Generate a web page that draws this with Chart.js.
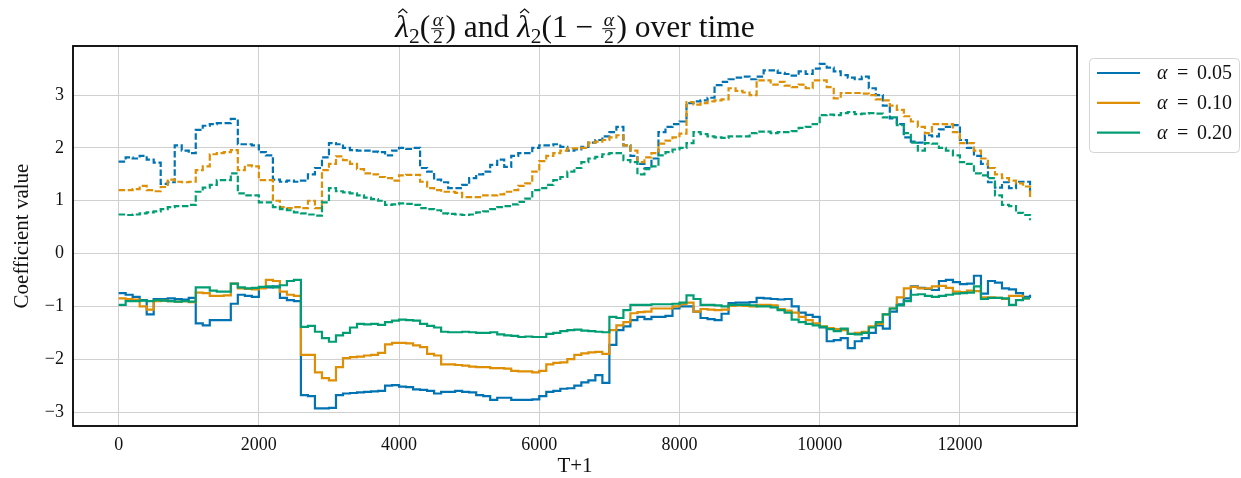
<!DOCTYPE html>
<html><head><meta charset="utf-8">
<script src="https://cdn.jsdelivr.net/npm/chart.js@4.4.0/dist/chart.umd.min.js"></script>
<style>html,body{margin:0;padding:0;background:#fff;}#wrap{width:1241px;height:478px;}</style>
</head><body><div id="wrap"><canvas id="c" width="1241" height="478"></canvas></div>
<script>
// Time axis (T+1), sampled every 100 steps
const timeSteps = Array.from({length:131}, (_, i) => i * 100);
const xTickValues = [0, 2000, 4000, 6000, 8000, 10000, 12000];
const yTickValues = [-3, -2, -1, 0, 1, 2, 3];
const alphaLabels = ['0.05', '0.10', '0.20'];

// Upper quantile coefficient lambda2(1 - alpha/2) (dashed)
const upper005 = [
 1.74,1.82,1.80,1.85,1.78,1.72,1.32,1.35,2.05,1.95,
 1.90,2.34,2.42,2.45,2.47,2.47,2.55,2.07,2.07,2.05,
 1.92,1.86,1.40,1.36,1.38,1.36,1.38,1.50,1.62,1.82,
 2.09,2.07,2.00,1.96,1.95,1.95,1.93,1.92,1.86,1.95,
 2.00,1.98,2.00,1.62,1.55,1.40,1.35,1.24,1.24,1.30,
 1.43,1.50,1.55,1.68,1.78,1.64,1.85,1.90,1.90,2.00,
 2.05,2.05,2.07,2.02,1.95,1.97,2.02,2.10,2.15,2.22,
 2.30,2.40,2.05,1.85,1.70,1.62,1.80,2.30,2.40,2.45,
 2.50,2.85,2.88,2.90,2.95,3.19,3.25,3.30,3.33,3.35,
 3.30,3.35,3.47,3.47,3.42,3.40,3.37,3.45,3.40,3.50,
 3.59,3.52,3.45,3.38,3.33,3.30,3.35,3.13,3.00,2.80,
 2.56,2.45,2.20,2.12,2.10,2.24,2.22,2.35,2.40,2.43,
 2.15,2.00,1.85,1.70,1.35,1.25,1.35,1.24,1.36,1.36,
 1.16];
const upper010 = [
 1.20,1.20,1.22,1.28,1.20,1.18,1.26,1.40,1.36,1.35,
 1.36,1.58,1.65,1.88,1.90,1.92,1.96,1.58,1.67,1.65,
 1.39,1.39,1.00,0.88,0.86,0.88,0.86,1.00,0.86,1.58,
 1.70,1.84,1.77,1.70,1.60,1.52,1.50,1.45,1.43,1.38,
 1.48,1.49,1.49,1.36,1.24,1.20,1.17,1.17,1.15,1.07,
 1.07,1.07,1.10,1.10,1.12,1.17,1.20,1.28,1.33,1.55,
 1.75,1.85,1.90,1.95,1.99,1.99,2.00,2.10,2.12,2.15,
 2.20,2.24,2.05,1.95,1.73,1.82,1.90,2.08,2.14,2.20,
 2.27,2.87,2.82,2.85,2.88,2.90,2.92,3.13,3.08,3.05,
 3.00,3.28,3.28,3.20,3.25,3.18,3.15,3.20,3.13,3.28,
 3.28,3.15,2.94,3.04,3.04,3.04,3.03,3.00,2.92,2.90,
 2.80,2.72,2.60,2.50,2.40,2.28,2.45,2.45,2.45,2.30,
 2.09,2.09,1.95,1.80,1.62,1.50,1.43,1.38,1.33,1.27,
 1.07];
const upper020 = [
 0.74,0.73,0.74,0.76,0.78,0.80,0.84,0.88,0.90,0.90,
 0.92,1.17,1.25,1.30,1.39,1.39,1.52,1.14,1.10,1.10,
 0.97,0.97,0.88,0.84,0.82,0.78,0.76,0.74,0.72,0.97,
 1.24,1.18,1.16,1.14,1.10,1.06,1.03,1.00,0.92,0.93,
 0.95,0.94,0.92,0.86,0.84,0.82,0.76,0.75,0.74,0.73,
 0.74,0.78,0.80,0.84,0.88,0.90,0.93,0.98,1.04,1.20,
 1.24,1.30,1.39,1.45,1.55,1.62,1.73,1.80,1.83,1.88,
 1.90,1.90,1.77,1.73,1.50,1.60,1.65,1.86,1.92,1.97,
 2.00,2.09,2.30,2.26,2.22,2.20,2.19,2.22,2.22,2.22,
 2.28,2.31,2.31,2.28,2.30,2.30,2.32,2.38,2.40,2.45,
 2.62,2.63,2.62,2.66,2.68,2.64,2.65,2.66,2.65,2.58,
 2.58,2.43,2.28,2.10,1.95,2.09,2.08,2.00,1.95,1.86,
 1.73,1.70,1.52,1.48,1.43,1.10,0.92,0.90,0.77,0.73,
 0.63];

// Lower quantile coefficient lambda2(alpha/2) (solid)
const lower005 = [
 -0.75,-0.78,-0.82,-0.88,-1.15,-0.86,-0.86,-0.85,-0.86,-0.87,
 -0.84,-1.32,-1.36,-1.26,-1.26,-1.26,-0.95,-0.78,-0.80,-0.82,
 -0.65,-0.64,-0.62,-0.84,-0.88,-0.90,-2.68,-2.70,-2.93,-2.93,
 -2.92,-2.68,-2.65,-2.64,-2.63,-2.62,-2.61,-2.60,-2.50,-2.49,
 -2.52,-2.53,-2.57,-2.58,-2.60,-2.65,-2.62,-2.62,-2.60,-2.62,
 -2.63,-2.68,-2.70,-2.77,-2.73,-2.73,-2.77,-2.77,-2.77,-2.76,
 -2.70,-2.62,-2.60,-2.56,-2.55,-2.50,-2.44,-2.40,-2.30,-2.45,
 -1.73,-1.45,-1.38,-1.26,-1.20,-1.24,-1.20,-1.20,-1.18,-1.04,
 -1.00,-1.00,-1.10,-1.22,-1.24,-1.26,-1.14,-0.94,-0.93,-0.93,
 -0.92,-0.84,-0.85,-0.86,-0.87,-0.86,-1.00,-1.12,-1.16,-1.20,
 -1.40,-1.66,-1.64,-1.60,-1.79,-1.66,-1.60,-1.50,-1.36,-1.42,
 -1.10,-0.96,-0.85,-0.62,-0.65,-0.67,-0.69,-0.52,-0.50,-0.54,
 -0.58,-0.57,-0.42,-0.76,-0.52,-0.55,-0.66,-0.68,-0.75,-0.82,
 -0.78];
const lower010 = [
 -0.85,-0.86,-0.87,-1.00,-1.06,-0.90,-0.89,-0.90,-0.91,-0.90,
 -0.92,-0.74,-0.75,-0.80,-0.80,-0.79,-0.57,-0.66,-0.67,-0.68,
 -0.66,-0.50,-0.52,-0.72,-0.78,-0.80,-1.92,-1.92,-2.25,-2.36,
 -2.40,-2.15,-1.98,-1.96,-1.95,-1.93,-1.92,-1.88,-1.72,-1.69,
 -1.69,-1.70,-1.74,-1.77,-1.90,-1.93,-2.10,-2.10,-2.11,-2.12,
 -2.14,-2.15,-2.15,-2.17,-2.17,-2.18,-2.22,-2.23,-2.23,-2.25,
 -2.22,-2.10,-2.07,-2.06,-2.00,-1.92,-1.89,-1.87,-1.86,-1.90,
 -1.45,-1.36,-1.30,-1.13,-1.11,-1.10,-1.04,-1.04,-1.04,-1.00,
 -0.96,-0.93,-1.10,-1.05,-1.06,-1.07,-1.06,-0.99,-0.98,-0.99,
 -1.00,-0.97,-0.97,-0.98,-1.05,-1.08,-1.12,-1.20,-1.26,-1.32,
 -1.38,-1.41,-1.43,-1.45,-1.52,-1.50,-1.48,-1.38,-1.33,-1.15,
 -1.04,-0.83,-0.66,-0.63,-0.66,-0.66,-0.62,-0.61,-0.65,-0.72,
 -0.73,-0.70,-0.71,-0.83,-0.83,-0.84,-0.86,-0.80,-0.80,-0.85,
 -0.85];
const lower020 = [
 -0.97,-0.90,-0.90,-0.89,-0.90,-0.88,-0.89,-0.90,-0.91,-0.90,
 -0.91,-0.64,-0.64,-0.70,-0.72,-0.72,-0.57,-0.64,-0.66,-0.65,
 -0.63,-0.62,-0.64,-0.60,-0.52,-0.50,-1.39,-1.37,-1.48,-1.60,
 -1.67,-1.55,-1.50,-1.40,-1.33,-1.34,-1.33,-1.35,-1.30,-1.27,
 -1.25,-1.26,-1.27,-1.33,-1.37,-1.40,-1.48,-1.49,-1.49,-1.48,
 -1.49,-1.50,-1.50,-1.49,-1.53,-1.55,-1.56,-1.58,-1.57,-1.58,
 -1.58,-1.52,-1.50,-1.47,-1.45,-1.44,-1.46,-1.47,-1.48,-1.49,
 -1.20,-1.22,-1.07,-0.97,-0.97,-0.97,-0.96,-0.96,-0.96,-0.95,
 -0.93,-0.79,-0.86,-0.97,-0.97,-0.98,-1.00,-0.97,-0.97,-0.97,
 -0.98,-1.00,-1.00,-1.02,-1.07,-1.12,-1.25,-1.30,-1.33,-1.36,
 -1.39,-1.43,-1.47,-1.42,-1.52,-1.53,-1.50,-1.40,-1.30,-1.15,
 -1.04,-0.98,-0.90,-0.78,-0.77,-0.80,-0.82,-0.80,-0.78,-0.76,
 -0.75,-0.74,-0.62,-0.86,-0.84,-0.84,-0.85,-0.97,-0.88,-0.85,
 -0.85];

const SERIF = "'Liberation Serif', 'Times New Roman', serif";
const COLORS = ['#0173b2', '#de8f05', '#029e73'];
const TEXT = '#111111';

function makeDs(label, vals, color, dashed, order) {
  return {
    label, order,
    data: vals.map((v, i) => ({x: timeSteps[i], y: v})),
    borderColor: color, backgroundColor: color,
    borderWidth: 2.2, borderDash: dashed ? [6.5, 2.6] : [],
    stepped: true, pointRadius: 0, fill: false, tension: 0
  };
}

const datasets = [
  makeDs('upper 0.05', upper005, COLORS[0], true, 5),
  makeDs('lower 0.05', lower005, COLORS[0], false, 4),
  makeDs('upper 0.10', upper010, COLORS[1], true, 3),
  makeDs('lower 0.10', lower010, COLORS[1], false, 2),
  makeDs('upper 0.20', upper020, COLORS[2], true, 1),
  makeDs('lower 0.20', lower020, COLORS[2], false, 0)
];

const decorPlugin = {
  id: 'decor',
  afterDraw(chart) {
    const ctx = chart.ctx;
    const ca = chart.chartArea;
    ctx.save();
    // frame
    ctx.strokeStyle = '#000'; ctx.lineWidth = 1.8; ctx.setLineDash([]);
    ctx.strokeRect(ca.left, ca.top, ca.right - ca.left, ca.bottom - ca.top);

    // axis titles
    ctx.fillStyle = TEXT;
    ctx.font = `21px ${SERIF}`;
    ctx.textAlign = 'center'; ctx.textBaseline = 'middle';
    ctx.fillText('T+1', (ca.left + ca.right) / 2, 466);
    ctx.save();
    ctx.translate(22, (ca.top + ca.bottom) / 2);
    ctx.rotate(-Math.PI / 2);
    ctx.fillText('Coefficient value', 0, 0);
    ctx.restore();

    // title with math
    const S = 31.5;
    const rm = sz => `${sz}px ${SERIF}`;
    const it = sz => `italic ${sz}px ${SERIF}`;
    const items = [];
    const lam = () => { items.push({t: 'λ', f: it(S), hat: true}); items.push({t: '2', f: rm(S * 0.68), dy: S * 0.2}); };
    const frac = () => items.push({frac: true, num: 'α', den: '2', fn: it(S * 0.62), fd: rm(S * 0.62)});
    lam(); items.push({t: '(', f: rm(S)}); frac(); items.push({t: ') and ', f: rm(S)});
    lam(); items.push({t: '(1 \u2212 ', f: rm(S)}); frac(); items.push({t: ') over time', f: rm(S)});
    let total = 0;
    for (const o of items) {
      if (o.frac) {
        ctx.font = o.fn; o.wa = ctx.measureText(o.num).width;
        ctx.font = o.fd; o.wb = ctx.measureText(o.den).width;
        o.w = Math.max(o.wa, o.wb) + 5;
      } else { ctx.font = o.f; o.w = ctx.measureText(o.t).width; }
      total += o.w;
    }
    let x = (ca.left + ca.right) / 2 - total / 2;
    const base = 37;
    ctx.textAlign = 'left'; ctx.textBaseline = 'alphabetic';
    ctx.strokeStyle = TEXT; ctx.fillStyle = TEXT;
    for (const o of items) {
      if (o.frac) {
        const axis = base - S * 0.28;
        ctx.font = o.fn; ctx.fillText(o.num, x + (o.w - o.wa) / 2, axis - 2.5);
        ctx.font = o.fd; ctx.fillText(o.den, x + (o.w - o.wb) / 2, axis + S * 0.48);
        ctx.lineWidth = 1; ctx.beginPath();
        ctx.moveTo(x + 1, axis + 0.5); ctx.lineTo(x + o.w - 1, axis + 0.5); ctx.stroke();
      } else {
        ctx.font = o.f; ctx.fillText(o.t, x, base + (o.dy || 0));
        if (o.hat) {
          const hx = x + o.w * 0.55, hy = base - S * 0.76;
          ctx.lineWidth = 1.2; ctx.beginPath();
          ctx.moveTo(hx - 4.5, hy); ctx.lineTo(hx, hy - 4); ctx.lineTo(hx + 4.5, hy); ctx.stroke();
        }
      }
      x += o.w;
    }

    // legend
    const lx = 1089, ly = 58, lw = 150, lh = 94;
    ctx.beginPath();
    ctx.roundRect(lx + 0.5, ly + 0.5, lw, lh, 4);
    ctx.fillStyle = '#fff'; ctx.fill();
    ctx.strokeStyle = '#d4d4d4'; ctx.lineWidth = 1; ctx.stroke();
    for (let i = 0; i < 3; i++) {
      const yy = 73 + i * 29.8;
      ctx.strokeStyle = COLORS[i]; ctx.lineWidth = 2.2; ctx.setLineDash([]);
      ctx.beginPath(); ctx.moveTo(1097, yy); ctx.lineTo(1140, yy); ctx.stroke();
      ctx.fillStyle = TEXT; ctx.textBaseline = 'middle'; ctx.textAlign = 'left';
      ctx.font = `italic 20px ${SERIF}`;
      ctx.fillText('α', 1157, yy + 1);
      ctx.font = `20px ${SERIF}`;
      ctx.fillText('=', 1177, yy + 1);
      ctx.fillText(alphaLabels[i], 1197, yy + 1);
    }
    ctx.restore();
  }
};

new Chart(document.getElementById('c'), {
  type: 'line',
  data: {datasets},
  options: {
    responsive: false, animation: false,
    layout: {padding: {top: 46, right: 164, left: 0, bottom: 0}},
    plugins: {legend: {display: false}, title: {display: false}, tooltip: {enabled: false}},
    scales: {
      x: {
        type: 'linear', min: -651, max: 13670,
        afterBuildTicks: s => { s.ticks = xTickValues.map(v => ({value: v})); },
        afterFit: s => { s.height = 52; },
        grid: {color: '#d0d0d0', lineWidth: 1, drawTicks: false},
        border: {display: false},
        ticks: {padding: 8, color: TEXT, font: {family: SERIF, size: 18}, maxRotation: 0, callback: v => String(v)}
      },
      y: {
        type: 'linear', min: -3.265, max: 3.93,
        afterBuildTicks: s => { s.ticks = yTickValues.map(v => ({value: v})); },
        afterFit: s => { s.width = 73; },
        grid: {color: '#d0d0d0', lineWidth: 1, drawTicks: false},
        border: {display: false},
        ticks: {padding: 9, color: TEXT, font: {family: SERIF, size: 18}, callback: v => (v < 0 ? '\u2212' + Math.abs(v) : String(v))}
      }
    }
  },
  plugins: [decorPlugin]
});
</script></body></html>
